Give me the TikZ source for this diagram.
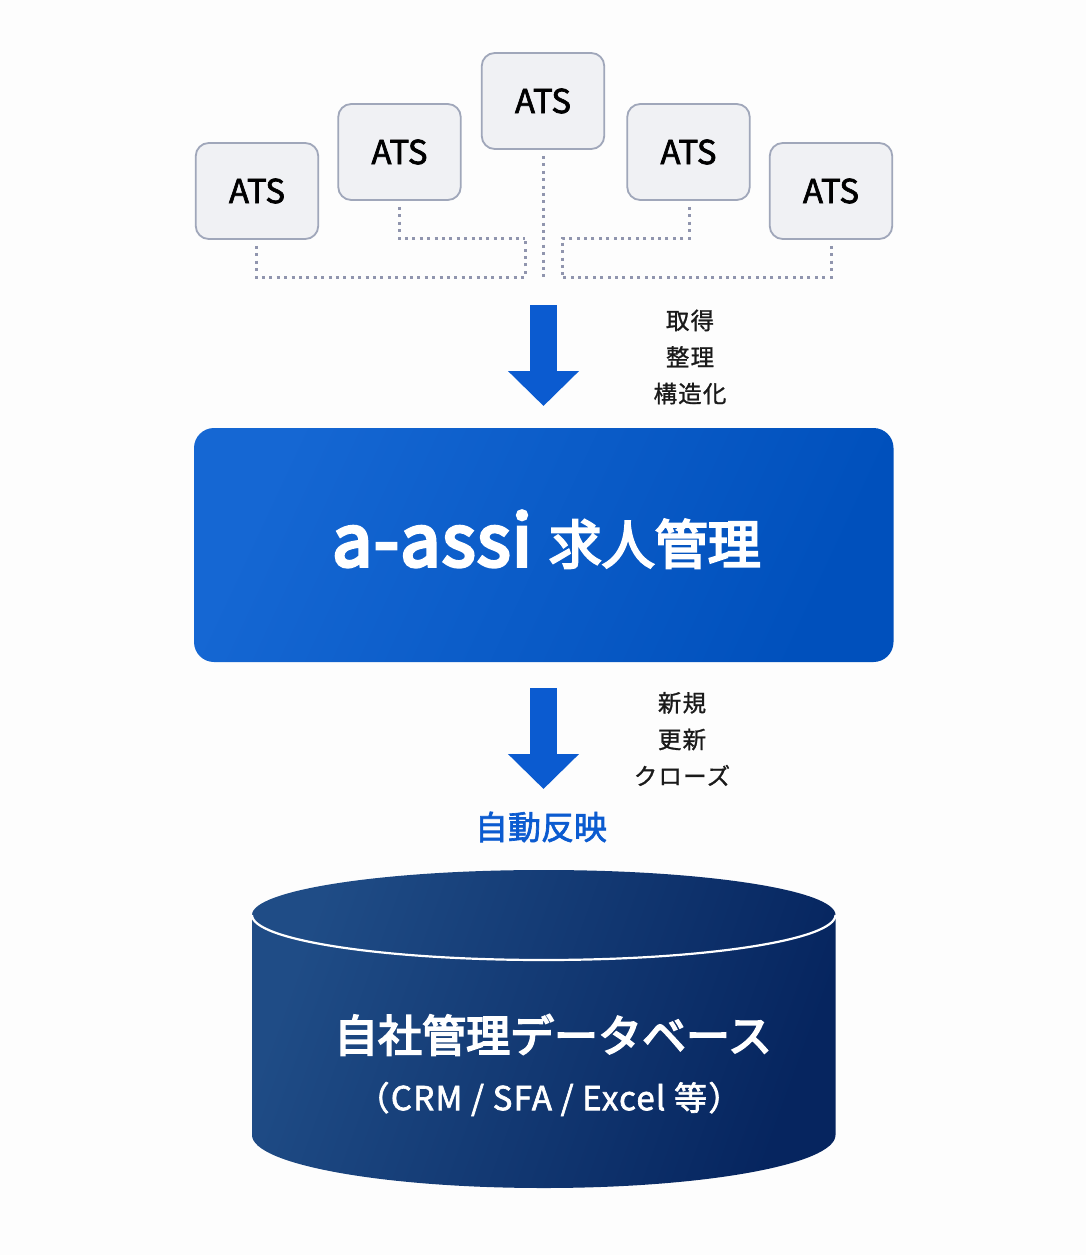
\documentclass[tikz,border=0pt]{standalone}
\usepackage{fontspec}
\setmainfont{Noto Sans CJK JP}
\newfontfamily\atsfont{Noto Sans CJK JP}[FakeBold=2]
\newfontfamily\sidefont{Noto Sans CJK JP}[FakeBold=1,LetterSpace=5]
\newfontfamily\brandfont{Noto Sans CJK JP}[FakeBold=5,LetterSpace=2.5]
\newfontfamily\headfont{Noto Sans CJK JP}[FakeBold=4]
\newfontfamily\autofont{Noto Sans CJK JP}[FakeBold=2]
\newfontfamily\subfont{Noto Sans CJK JP}[FakeBold=2,LetterSpace=4]
\usetikzlibrary{arrows.meta}
\definecolor{pagebg}{HTML}{FDFDFD}
\definecolor{atsfill}{HTML}{F0F1F4}
\definecolor{atsline}{HTML}{A0A7BA}
\definecolor{dotline}{HTML}{9095AE}
\definecolor{arrowblue}{HTML}{0B5BD0}
\definecolor{boxA}{HTML}{1567D3}
\definecolor{boxB}{HTML}{0050BC}
\definecolor{cylA}{HTML}{1F4C86}
\definecolor{cylB}{HTML}{06255F}
\definecolor{inktext}{HTML}{1A1A1A}
\tikzset{
  atsbox/.style={draw=atsline,line width=1.8pt,fill=atsfill,rounded corners=13pt,minimum width=122.5pt,minimum height=96pt,inner sep=0pt,text=black,font=\atsfont\fontsize{33}{36}\selectfont},
  dotlink/.style={draw=dotline,line width=3pt,dash pattern=on 3pt off 4.4pt},
  bigarrow/.style={draw=arrowblue,line width=27pt,-{Triangle[width=69pt,length=35pt,fill=arrowblue]}},
  sidelabel/.style={inner sep=0pt,text=inktext,align=center,font=\sidefont\fontsize{23.5}{36.6}\selectfont},
}
\begin{document}
\begin{tikzpicture}[x=1pt,y=-1pt]
\fill[pagebg] (0,0) rectangle (1086,1255);
\useasboundingbox (0,0) rectangle (1086,1255);
% ATS boxes
\node[atsbox] (a1) at (257,191) {ATS};
\node[atsbox] (a2) at (399.5,152) {ATS};
\node[atsbox] (a3) at (543,101) {ATS};
\node[atsbox] (a4) at (688.5,152) {ATS};
\node[atsbox] (a5) at (831,191) {ATS};
% junctions
\coordinate (j1a) at (256,277);
\coordinate (j1b) at (525,277);
\coordinate (j2a) at (399,238);
\coordinate (j2b) at (525,238);
\coordinate (j3) at (543,277);
\coordinate (j4a) at (689,238);
\coordinate (j4b) at (562,238);
\coordinate (j5a) at (831,277);
\coordinate (j5b) at (562,277);
\draw[dotlink,shorten <=6pt] (a1.south -| j1a) -- (j1a) -- (j1b) -- (j2b);
\draw[dotlink,shorten <=6pt] (a2.south -| j2a) -- (j2a) -- (j2b);
\draw[dotlink,shorten <=6pt] (a3.south -| j3) -- (j3);
\draw[dotlink,shorten <=6pt] (a4.south -| j4a) -- (j4a) -- (j4b) -- (j5b);
\draw[dotlink,shorten <=6pt] (a5.south -| j5a) -- (j5a) -- (j5b);
% main box
\shade[rounded corners=20pt,left color=boxA,right color=boxB,shading angle=65] (194,428) rectangle (893.5,662);
\node[inner sep=0pt,anchor=base,text=white] (main) at (546.5,566) {\brandfont\fontsize{71}{75}\selectfont a-assi\hspace{17pt}\headfont\fontsize{53}{60}\selectfont\raisebox{2pt}{求人管理}};
% arrows
\coordinate (ar1s) at (543.5,305);
\coordinate (ar1e) at (543.5,406);
\coordinate (ar2s) at (543.5,688);
\coordinate (ar2e) at (543.5,789);
\draw[bigarrow] (ar1s) -- (ar1e);
\draw[bigarrow] (ar2s) -- (ar2e);
% side labels
\node[sidelabel] (l1) at (690,357) {取得\\整理\\構造化};
\node[sidelabel] (l2) at (682,739) {新規\\更新\\クローズ};
\node[inner sep=0pt,text=arrowblue,font=\autofont\fontsize{33}{36}\selectfont] (l3) at (541,827) {自動反映};
% cylinder
\shade[left color=cylA,right color=cylB,shading angle=70]
  (252,915) -- (252,1135) arc[start angle=180,end angle=0,x radius=291.75,y radius=53] -- (835.5,915)
  arc[start angle=0,end angle=180,x radius=291.75,y radius=-45] -- cycle;
\draw[white,line width=2.2pt] (252,915) arc[start angle=180,end angle=0,x radius=291.75,y radius=45];
\node[inner sep=0pt,text=white,font=\headfont\fontsize{44}{50}\selectfont] (t1) at (553,1035) {自社管理データベース};
\node[inner sep=0pt,text=white,font=\subfont\fontsize{33}{36}\selectfont] (t2) at (549,1099) {（CRM / SFA / Excel 等）};
\end{tikzpicture}
\end{document}
